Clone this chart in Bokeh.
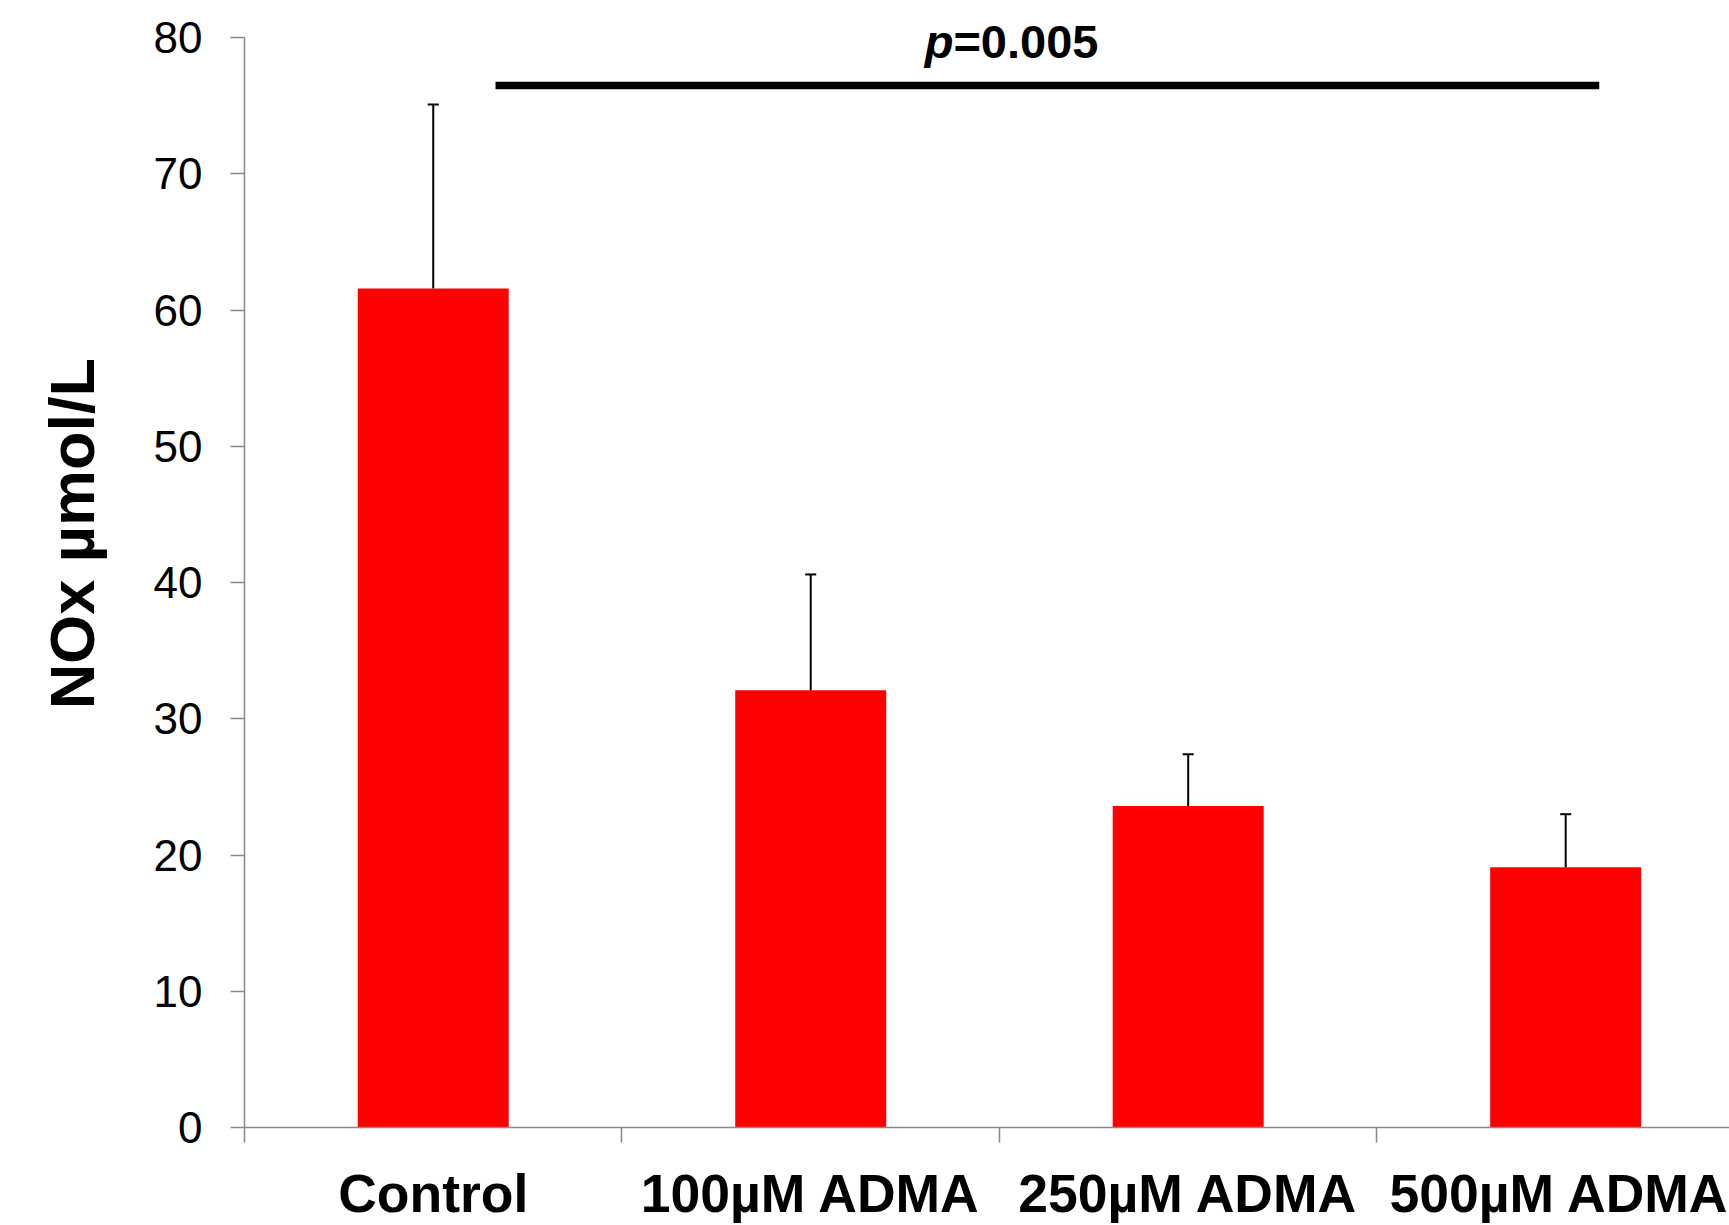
from bokeh.plotting import figure
from bokeh.layouts import row
from bokeh.models import FixedTicker, Range1d, ColumnDataSource
from bokeh.core.properties import value
from bokeh.embed import file_html
from bokeh.resources import INLINE

# ---- data ----
categories = ["Control", "100\u00b5M ADMA", "250\u00b5M ADMA", "500\u00b5M ADMA"]
means = [61.6, 32.1, 23.6, 19.1]
err_tops = [75.1, 40.6, 27.4, 23.0]
y_ticks = [0, 10, 20, 30, 40, 50, 60, 70, 80]
y_title = "NOx \u00b5mol/L"
p_text = "=0.005"
bracket_from = 0.665
bracket_to = 3.589
bracket_level = 76.5

centers = [i + 0.5 for i in range(len(categories))]
bounds = list(range(len(categories) + 1))

FONT = "Liberation Sans"
AXIS_GRAY = "#898989"

W, H = 1729, 1225
LEFT_W = 140
TOP, BOTTOM = 10, 97

yr = Range1d(0, 82)

# narrow panel that carries the rotated y-axis title
t = figure(width=LEFT_W, height=H, output_backend="svg", toolbar_location=None,
           x_range=Range1d(0, LEFT_W), y_range=yr,
           x_axis_location=None, y_axis_location=None,
           min_border_left=0, min_border_right=0, min_border_top=TOP, min_border_bottom=BOTTOM)
t.xgrid.visible = False
t.ygrid.visible = False
t.outline_line_color = None
t.text(x=[71], y=[43.6], text=[y_title], angle=1.5707963267948966,
       text_align="center", text_baseline="middle",
       text_font=value(FONT), text_font_style="bold", text_font_size="63px", text_color="black")

p = figure(width=W - LEFT_W, height=H, output_backend="svg", toolbar_location=None,
           x_range=Range1d(0, 3.934), y_range=yr,
           min_border_left=244 - LEFT_W, min_border_right=0,
           min_border_top=TOP, min_border_bottom=BOTTOM)
p.xgrid.visible = False
p.ygrid.visible = False
p.outline_line_color = None
p.background_fill_color = "white"
p.border_fill_color = "white"

src = ColumnDataSource(dict(x=centers, top=means, err=err_tops,
                            cl=[c - 0.0146 for c in centers], cr=[c + 0.0146 for c in centers]))
p.vbar(x="x", top="top", width=0.40, source=src, fill_color="#FF0000", line_color=None)
p.segment(x0="x", y0="top", x1="x", y1="err", source=src, line_color="black", line_width=2)
p.segment(x0="cl", y0="err", x1="cr", y1="err", source=src, line_color="black", line_width=2)

# significance bracket
p.segment(x0=[bracket_from], y0=[bracket_level], x1=[bracket_to], y1=[bracket_level],
          line_color="black", line_width=7.5)
p.text(x=[1.878], y=[79.7], text=["p"], text_align="right", text_baseline="middle",
       text_font=value(FONT), text_font_style="bold italic", text_font_size="47px", text_color="black")
p.text(x=[1.878], y=[79.7], text=[p_text], text_align="left", text_baseline="middle",
       text_font=value(FONT), text_font_style="bold", text_font_size="47px", text_color="black")

# y axis
ya = p.yaxis[0]
ya.ticker = FixedTicker(ticks=y_ticks)
ya.bounds = (0, 80)
ya.axis_line_color = AXIS_GRAY
ya.axis_line_width = 1.5
ya.major_tick_line_color = AXIS_GRAY
ya.major_tick_line_width = 1.5
ya.major_tick_out = 14
ya.major_tick_in = 0
ya.minor_tick_line_color = None
ya.major_label_standoff = 28
ya.major_label_text_font = FONT
ya.major_label_text_font_size = "44px"
ya.major_label_text_color = "black"

# x axis
xa = p.xaxis[0]
xa.ticker = FixedTicker(ticks=centers, minor_ticks=bounds)
xa.major_label_overrides = {c: lab for c, lab in zip(centers, categories)}
xa.axis_line_color = AXIS_GRAY
xa.axis_line_width = 1.5
xa.major_tick_line_color = None
xa.major_tick_out = 0
xa.major_tick_in = 0
xa.minor_tick_line_color = AXIS_GRAY
xa.minor_tick_line_width = 1.5
xa.minor_tick_out = 15
xa.minor_tick_in = 0
xa.major_label_standoff = 21
xa.major_label_text_font = FONT
xa.major_label_text_font_style = "bold"
xa.major_label_text_font_size = "53.5px"
xa.major_label_text_color = "black"

layout = row(t, p, spacing=0)
open("out.html", "w").write(file_html(layout, INLINE))
